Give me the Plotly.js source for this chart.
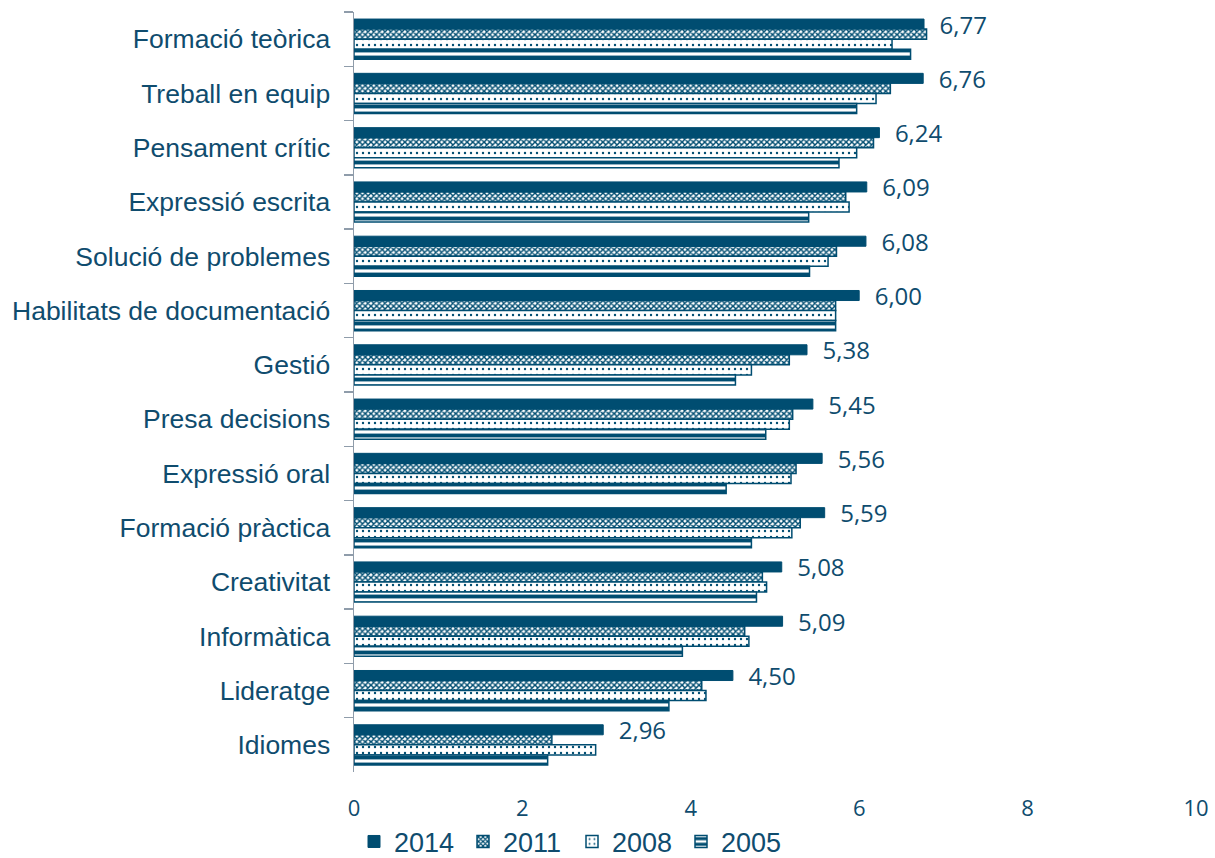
<!DOCTYPE html>
<html>
<head>
<meta charset="utf-8">
<script src="https://cdn.plot.ly/plotly-3.0.1.min.js"></script>
<style>html,body{margin:0;padding:0;background:#fff;}#chart{width:1215px;height:858px;}</style>
</head>
<body>
<div id="chart"></div>
<script>
const categories = ["Formació teòrica","Treball en equip","Pensament crític","Expressió escrita","Solució de problemes","Habilitats de documentació","Gestió","Presa decisions","Expressió oral","Formació pràctica","Creativitat","Informàtica","Lideratge","Idiomes"];
const series2014 = [6.77,6.76,6.24,6.09,6.08,6.00,5.38,5.45,5.56,5.59,5.08,5.09,4.50,2.96];
const series2011 = [6.80,6.37,6.17,5.84,5.73,5.72,5.17,5.21,5.25,5.30,4.85,4.64,4.13,2.35];
const series2008 = [6.39,6.20,5.97,5.88,5.63,5.72,4.72,5.17,5.19,5.20,4.90,4.69,4.18,2.87];
const series2005 = [6.61,5.97,5.76,5.40,5.41,5.72,4.53,4.89,4.42,4.72,4.78,3.90,3.74,2.30];
const seriesNames = ["2014","2011","2008","2005"];

const NAVY = "#004d71";
const TEXT = "#0f4c6e";

function labelText(v){ return "\u00a0\u00a0" + v.toFixed(2).replace(".", ","); }

const traces = [
  {
    type: "bar", orientation: "h", name: seriesNames[0],
    y: categories, x: series2014,
    marker: {color: NAVY, line: {color: NAVY, width: 1}},
    text: series2014.map(labelText), textposition: "outside",
    textfont: {family: "Open Sans", size: 24, color: TEXT},
    outsidetextfont: {family: "Open Sans", size: 24, color: TEXT},
    constraintext: "none", cliponaxis: false, hoverinfo: "skip"
  },
  {
    type: "bar", orientation: "h", name: seriesNames[1],
    y: categories, x: series2011,
    marker: {color: NAVY, line: {color: NAVY, width: 1.5},
      pattern: {shape: "x", fgcolor: NAVY, bgcolor: "#ffffff", size: 4, solidity: 0.6, fillmode: "replace"}},
    hoverinfo: "skip"
  },
  {
    type: "bar", orientation: "h", name: seriesNames[2],
    y: categories, x: series2008,
    marker: {color: NAVY, line: {color: NAVY, width: 1.5},
      pattern: {shape: ".", fgcolor: NAVY, bgcolor: "#ffffff", size: 6, solidity: 0.12, fillmode: "replace"}},
    hoverinfo: "skip"
  },
  {
    type: "bar", orientation: "h", name: seriesNames[3],
    y: categories, x: series2005,
    marker: {color: NAVY, line: {color: NAVY, width: 1.5},
      pattern: {shape: "-", fgcolor: NAVY, bgcolor: "#ffffff", size: 7, solidity: 0.55, fillmode: "replace"}},
    hoverinfo: "skip"
  }
];

const layout = {
  width: 1215, height: 858,
  margin: {l: 354, r: 19, t: 12, b: 86, autoexpand: false},
  paper_bgcolor: "#ffffff", plot_bgcolor: "#ffffff",
  barmode: "group", bargap: 0.26, bargroupgap: 0,
  separators: ",.",
  showlegend: true,
  legend: {
    orientation: "h", x: 0.0, xanchor: "left", y: -0.092, yanchor: "middle",
    font: {family: "Liberation Sans, Arial", size: 27, color: TEXT},
    traceorder: "normal", entrywidth: 64, entrywidthmode: "pixels"
  },
  xaxis: {
    range: [0, 10], dtick: 2, tick0: 0,
    showgrid: false, zeroline: false, showline: false, ticks: "",
    tickfont: {family: "Open Sans", size: 22, color: TEXT},
    ticklabelstandoff: 21,
    fixedrange: true
  },
  yaxis: {
    autorange: "reversed", type: "category",
    showline: true, linecolor: "#8f9caa", linewidth: 1.5,
    ticks: "outside", tickson: "boundaries", ticklen: 9, tickcolor: "#8f9caa", tickwidth: 1.5,
    tickfont: {family: "Liberation Sans, Arial", size: 26.5, color: TEXT},
    ticklabelstandoff: 17,
    showgrid: false, zeroline: false,
    fixedrange: true
  }
};

Plotly.newPlot("chart", traces, layout, {displayModeBar: false, staticPlot: true});
</script>
</body>
</html>
